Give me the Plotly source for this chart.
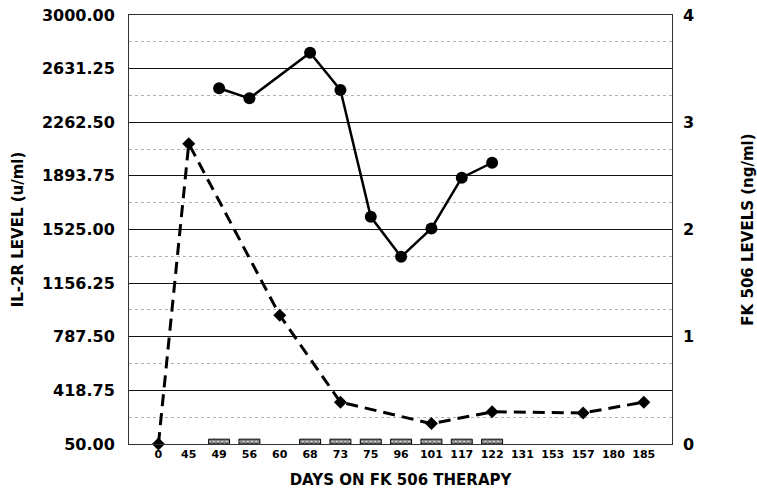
import plotly.graph_objects as go

days = ["0", "45", "49", "56", "60", "68", "73", "75", "96", "101", "117", "122",
        "131", "153", "157", "180", "185"]

il2r_days = ["49", "56", "68", "73", "75", "96", "101", "117", "122"]
il2r_values = [2496, 2427, 2741, 2484, 1612, 1337, 1532, 1881, 1984]

fk_days = ["0", "45", "60", "73", "101", "122", "157", "185"]
fk_values = [0.0, 2.80, 1.20, 0.39, 0.19, 0.30, 0.29, 0.39]

sample_days = ["49", "56", "68", "73", "75", "96", "101", "117", "122"]
sample_heights = [0.045] * len(sample_days)

left_ticks = [50 + 368.75 * i for i in range(9)]
left_labels = ["<b>%.2f</b>" % v for v in left_ticks]
left_minor = [50 + 368.75 * (i + 0.5) for i in range(8)]
right_ticks = [0, 1, 2, 3, 4]
right_labels = ["<b>%d</b>" % v for v in right_ticks]
day_labels = ["<b>%s</b>" % d for d in days]

font = "DejaVu Sans, Arial, sans-serif"

fig = go.Figure()

fig.add_trace(go.Bar(
    x=sample_days, y=sample_heights, yaxis="y2",
    marker=dict(color="white", line=dict(color="black", width=1),
                pattern=dict(shape="x", fgcolor="black", bgcolor="white", size=3, solidity=0.85)),
    showlegend=False,
))

fig.add_trace(go.Scatter(
    x=fk_days, y=fk_values, yaxis="y2", mode="lines+markers",
    line=dict(color="black", width=3, dash="12px,7px"),
    marker=dict(symbol="diamond", size=10, color="black"),
    cliponaxis=False, showlegend=False,
))

fig.add_trace(go.Scatter(
    x=il2r_days, y=il2r_values, mode="lines+markers",
    line=dict(color="black", width=2.5),
    marker=dict(symbol="circle", size=12, color="black"),
    cliponaxis=False, showlegend=False,
))

fig.update_layout(
    width=757, height=500,
    margin=dict(l=129, r=85, t=15, b=56, autoexpand=False),
    paper_bgcolor="white", plot_bgcolor="white",
    bargap=0.31,
    font=dict(family=font, color="black"),
    xaxis=dict(
        type="category", categoryorder="array", categoryarray=days,
        tickvals=days, ticktext=day_labels, automargin=False,
        range=[-0.97, len(days) - 0.07],
        showgrid=False, showline=True, linecolor="#333", linewidth=1, mirror=True,
        ticks="", tickfont=dict(size=11, family=font),
        title=dict(text="<b>DAYS ON FK 506 THERAPY</b>", font=dict(size=15, family=font), standoff=14),
    ),
    yaxis=dict(
        range=[50, 3000], tickvals=left_ticks, ticktext=left_labels, automargin=False,
        showgrid=True, gridcolor="#111", gridwidth=1,
        minor=dict(tickvals=left_minor, showgrid=True, gridcolor="#b0b0b0",
                   griddash="dot", gridwidth=1),
        showline=True, linecolor="#333", linewidth=1, mirror=True,
        ticks="", ticklabelstandoff=10,
        tickfont=dict(size=16, family=font),
        zeroline=False,
        title=dict(text="<b>IL-2R LEVEL (u/ml)</b>", font=dict(size=15, family=font), standoff=14),
    ),
    yaxis2=dict(
        range=[0, 4], tickvals=right_ticks, ticktext=right_labels, automargin=False,
        overlaying="y", side="right",
        showgrid=False, zeroline=False, ticks="", ticklabelstandoff=10,
        tickfont=dict(size=16, family=font),
        title=dict(text="<b>FK 506 LEVELS (ng/ml)</b>", font=dict(size=15, family=font), standoff=50),
    ),
)

fig.write_html("out.html", config={"displayModeBar": False},
               post_script="document.body.style.margin='0';")
